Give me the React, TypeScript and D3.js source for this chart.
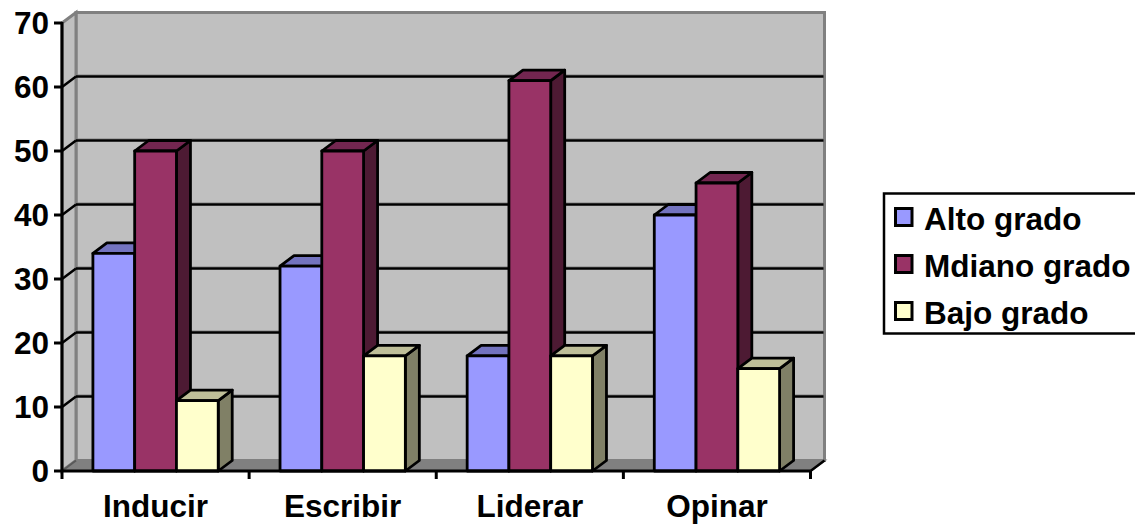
import React from "react";
import * as d3 from "d3";

const categories = ["Inducir", "Escribir", "Liderar", "Opinar"];
const seriesNames = ["Alto grado", "Mdiano grado", "Bajo grado"];
const alto = [34, 32, 18, 40];
const mediano = [50, 50, 61, 45];
const bajo = [11, 18, 18, 16];
const seriesValues = [alto, mediano, bajo];
const yTicks = [0, 10, 20, 30, 40, 50, 60, 70];
const front = ["#9999FF", "#993366", "#FFFFCC"];
const topFace = ["#7373BF", "#732650", "#BFBF99"];
const sideFace = ["#4D4D80", "#4D1A33", "#808066"];

const W = 1135, H = 525;
const DX = 14, DY = 10.5;
const FONT = "'Liberation Sans', Arial, sans-serif";
const FS = 31.5;

export default function App() {
  const y = d3.scaleLinear().domain([0, 70]).range([471, 23]);
  const x0 = d3.scaleBand<string>().domain(categories).range([62, 810.5]);
  const x1 = d3.scaleBand<string>().domain(seriesNames).range([0, x0.bandwidth()]).paddingOuter(0.74).paddingInner(0);
  const L = x0.range()[0], R = x0.range()[1];
  const poly = (p: number[][]) => d3.line()(p as [number, number][]) + "Z";
  const axisStroke = 3;
  return (
    <svg width={W} height={H} style={{ position: "absolute", left: 0, top: 0 }}>
      {/* back wall, side wall, floor */}
      <path d={poly([[L + DX, y(70) - DY], [R + DX, y(70) - DY], [R + DX, y(0) - DY], [L + DX, y(0) - DY]])} fill="#C0C0C0" stroke="#808080" strokeWidth={3} />
      <path d={poly([[L, y(70)], [L + DX, y(70) - DY], [L + DX, y(0) - DY], [L, y(0)]])} fill="#C0C0C0" stroke="#808080" strokeWidth={3} />
      <path d={poly([[L, y(0)], [L + DX, y(0) - DY], [R + DX, y(0) - DY], [R, y(0)]])} fill="#808080" stroke="#808080" strokeWidth={2} />
      {/* gridlines */}
      {yTicks.filter(t => t > 0 && t < 70).map(t => (
        <g key={t}>
          <line x1={L + DX} x2={R + DX - 1} y1={y(t) - DY - 1.5} y2={y(t) - DY - 1.5} stroke="#808080" strokeWidth={1} />
          <line x1={L + DX} x2={R + DX - 1} y1={y(t) - DY} y2={y(t) - DY} stroke="#000" strokeWidth={2.5} />
          <line x1={L} x2={L + DX} y1={y(t)} y2={y(t) - DY} stroke="#000" strokeWidth={2.5} />
        </g>
      ))}
      {/* bars */}
      {categories.map((c, i) =>
        seriesNames.map((s, j) => {
          const v = seriesValues[j][i];
          const a = x0(c)! + x1(s)!;
          const b = a + x1.bandwidth();
          const t = y(v), z = y(0);
          return (
            <g key={c + s} stroke="#000" strokeWidth={2.8} strokeLinejoin="round">
              <path d={poly([[b, z], [b + DX, z - DY], [b + DX, t - DY], [b, t]])} fill={sideFace[j]} />
              <path d={poly([[a, t], [a + DX, t - DY], [b + DX, t - DY], [b, t]])} fill={topFace[j]} />
              <rect x={a} y={t} width={b - a} height={z - t} fill={front[j]} />
            </g>
          );
        })
      )}
      {/* axes */}
      <line x1={L} x2={L} y1={y(70) - 1} y2={y(0) + 1} stroke="#000" strokeWidth={axisStroke} />
      <line x1={L - 1} x2={R} y1={y(0)} y2={y(0)} stroke="#000" strokeWidth={axisStroke} />
      <line x1={L} x2={L + DX} y1={y(0)} y2={y(0) - DY} stroke="#000" strokeWidth={2} opacity={0.3} />
      <line x1={R} x2={R + DX} y1={y(0)} y2={y(0) - DY} stroke="#000" strokeWidth={2.5} />
      {yTicks.map(t => (
        <g key={t}>
          <line x1={L - 8} x2={L} y1={y(t)} y2={y(t)} stroke="#000" strokeWidth={3} />
          <text x={49} y={y(t) + 11} textAnchor="end" fontFamily={FONT} fontWeight="bold" fontSize={FS} fill="#000">{t}</text>
        </g>
      ))}
      {[...categories.map(c => x0(c)!), R].map((p, i) => (
        <line key={i} x1={p} x2={p} y1={y(0)} y2={y(0) + 8} stroke="#000" strokeWidth={3} />
      ))}
      {categories.map(c => (
        <text key={c} x={x0(c)! + x0.bandwidth() / 2} y={517} textAnchor="middle" fontFamily={FONT} fontWeight="bold" fontSize={FS} fill="#000">{c}</text>
      ))}
      {/* legend */}
      <rect x={884} y={193.5} width={253} height={140} fill="#fff" stroke="#000" strokeWidth={2.5} />
      {seriesNames.map((s, j) => (
        <g key={s}>
          <rect x={895.5} y={208.5 + j * 47} width={16.5} height={17} fill={front[j]} stroke="#000" strokeWidth={3} />
          <text x={924} y={230 + j * 47} fontFamily={FONT} fontWeight="bold" fontSize={FS} fill="#000">{s}</text>
        </g>
      ))}
    </svg>
  );
}
